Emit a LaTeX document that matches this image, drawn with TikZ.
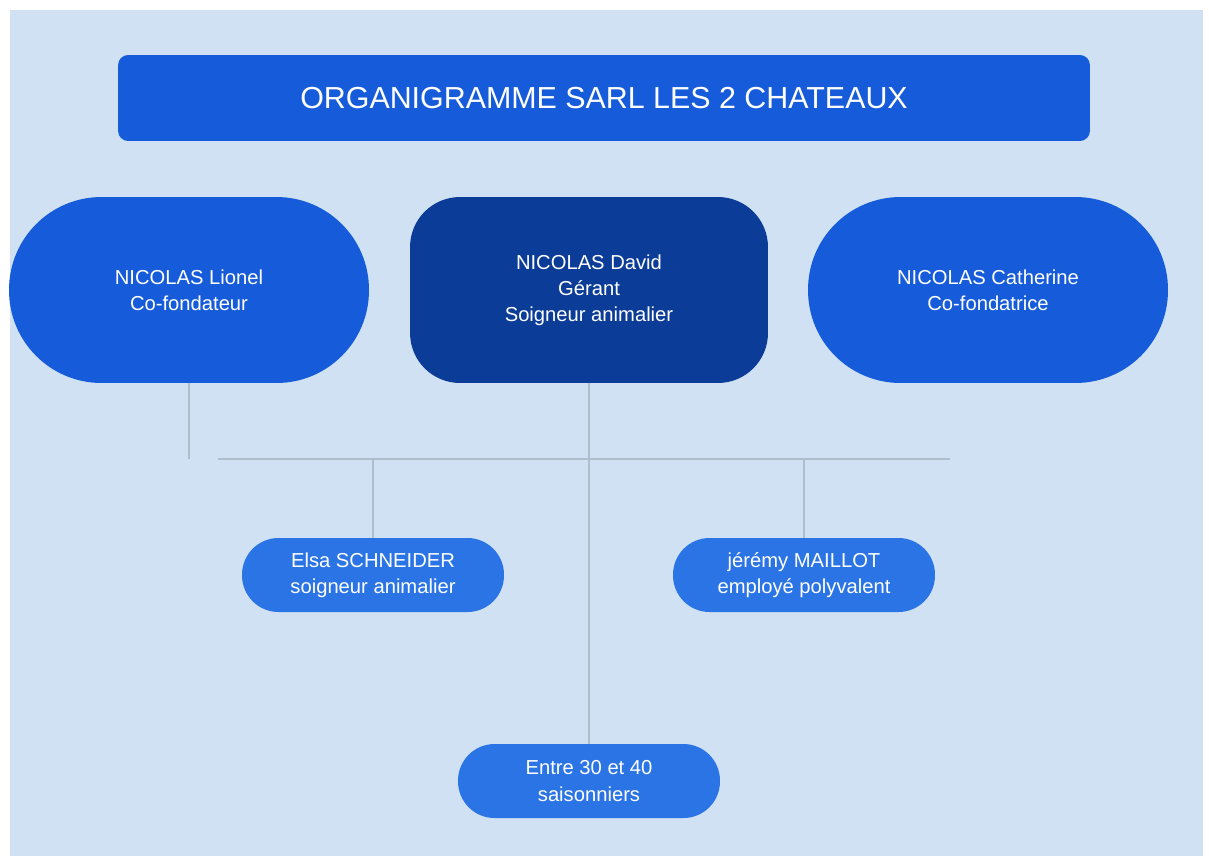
\documentclass[tikz,border=0pt]{standalone}
\usepackage{fontspec}
\setmainfont{Liberation Sans}
\definecolor{fondo}{RGB}{207,225,243}
\definecolor{azul}{RGB}{22,92,218}
\definecolor{oscuro}{RGB}{11,60,152}
\definecolor{claro}{RGB}{42,116,230}
\definecolor{linea}{RGB}{176,190,204}
\tikzset{
	caja/.style={fill=azul, text=white, inner sep=0pt, align=center,
		font=\fontsize{11.5}{14.9}\selectfont},
	grande/.style={caja, minimum width=7.2cm, minimum height=3.72cm},
	chico/.style={caja, fill=claro, minimum width=5.24cm, minimum height=1.48cm, rounded corners=0.73cm},
	enlace/.style={draw=linea, line width=0.6pt}
}
\begin{document}
\begin{tikzpicture}[x=0.02cm, y=-0.02cm]
		% Fondo
		\fill[white] (0,0) rectangle (1209,859);
		\fill[fondo] (10,10) rectangle (1203,856);
		
		% Titulo
		\node[caja, minimum width=19.44cm, minimum height=1.72cm, rounded corners=0.2cm,
			font=\fontsize{17.3}{20}\selectfont] (titulo) at (604,98) {ORGANIGRAMME SARL LES 2 CHATEAUX};
		
		% Fundadores y gerente
		\node[grande, rounded corners=1.85cm] (lionel) at (189,290) {NICOLAS Lionel\\Co-fondateur};
		\node[grande, fill=oscuro, minimum width=7.16cm, rounded corners=1cm] (david) at (589,290) {NICOLAS David\\Gérant\\Soigneur animalier};
		\node[grande, rounded corners=1.85cm] (catherine) at (988,290) {NICOLAS Catherine\\Co-fondatrice};
		
		% Empleados
		\node[chico] (elsa) at (373,575) {Elsa SCHNEIDER\\soigneur animalier};
		\node[chico] (jeremy) at (804,575) {jérémy MAILLOT\\employé polyvalent};
		\node[chico] (saison) at (589,781) {Entre 30 et 40\\saisonniers};
		
		% Enlaces
		\coordinate (busL) at (218,459);
		\coordinate (busR) at (950,459);
		\draw[enlace] (busL) -- (busR);
		\draw[enlace] (lionel.south) -- (lionel.south |- busL);
		\draw[enlace] (elsa.north) -- (elsa.north |- busL);
		\draw[enlace] (jeremy.north) -- (jeremy.north |- busL);
		\draw[enlace] (david.south) -- (saison.north);
		
	\end{tikzpicture}
\end{document}
